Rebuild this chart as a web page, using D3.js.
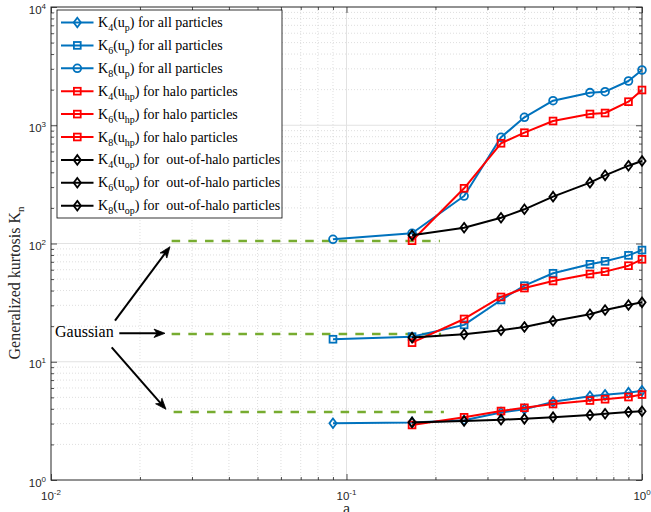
<!DOCTYPE html>
<html><head><meta charset="utf-8">
<script src="https://cdn.jsdelivr.net/npm/d3@7"></script>
<style>body{margin:0;background:#fff;overflow:hidden}</style>
</head><body><svg id="c" width="651" height="512"></svg>
<script>
// ---------- data ----------
const aAll = [0.09, 1/6, 0.25, 1/3, 0.4, 0.5, 2/3, 0.75, 0.9, 1];
const aSub = [1/6, 0.25, 1/3, 0.4, 0.5, 2/3, 0.75, 0.9, 1];

const K4p  = [3.02, 3.07, 3.2, 3.72, 3.97, 4.58, 5.1, 5.25, 5.48, 5.68];
const K6p  = [15.5, 16.3, 20.5, 33.3, 44, 56, 66.7, 70.7, 79.4, 88];
const K8p  = [108.5, 122, 252, 791, 1167, 1613, 1886, 1922, 2367, 2933];
const K4hp = [2.92, 3.39, 3.83, 4.08, 4.39, 4.7, 4.82, 5.03, 5.28];
const K6hp = [14.5, 23, 35.3, 42, 48.2, 55.2, 57.8, 64.9, 73.5];
const K8hp = [105.6, 293, 704, 865, 1086, 1245, 1269, 1582, 1986];
const K4op = [3.07, 3.15, 3.24, 3.29, 3.4, 3.55, 3.63, 3.76, 3.81];
const K6op = [16, 17.1, 18.45, 19.7, 22.1, 25.2, 27.4, 30.2, 31.8];
const K8op = [117.3, 136, 165, 194.6, 249, 327, 377, 455, 499];

const gaussLevels = [105, 17.2, 3.76];
const gaussStart = [0.0256, 0.0256, 0.026];
const gaussEnd   = [0.207, 0.209, 0.2136];

const xTickVals = [0.01, 0.1, 1];
const xTickExp  = ["-2", "-1", "0"];
const yTickVals = [1, 10, 100, 1000, 10000];
const yTickExp  = ["0", "1", "2", "3", "4"];

const legendK   = ["4", "6", "8", "4", "6", "8", "4", "6", "8"];
const legendU   = ["p", "p", "p", "hp", "hp", "hp", "op", "op", "op"];
const legendEnd = [") for all particles", ") for all particles", ") for all particles",
                   ") for halo particles", ") for halo particles", ") for halo particles",
                   ") for  out-of-halo particles", ") for  out-of-halo particles", ") for  out-of-halo particles"];

const xLabel = "a";
const yLabel = "Generalized kurtosis K";
const yLabelSub = "n";
const annotation = "Gaussian";

// ---------- setup ----------
const blue = "#0072BD", red = "#FF0000", black = "#000000", green = "#77AC30";
const series = [
  {x: aAll, y: K4p,  c: blue,  m: "d"},
  {x: aAll, y: K6p,  c: blue,  m: "s"},
  {x: aAll, y: K8p,  c: blue,  m: "o"},
  {x: aSub, y: K4hp, c: red,   m: "s"},
  {x: aSub, y: K6hp, c: red,   m: "s"},
  {x: aSub, y: K8hp, c: red,   m: "s"},
  {x: aSub, y: K4op, c: black, m: "d"},
  {x: aSub, y: K6op, c: black, m: "d"},
  {x: aSub, y: K8op, c: black, m: "d"},
];

const L = 51, R = 642, T = 7, B = 480;
const x = d3.scaleLog().domain([0.01, 1]).range([L, R]);
const y = d3.scaleLog().domain([1, 10000]).range([B, T]);

const svg = d3.select("#c");
svg.append("rect").attr("width", 651).attr("height", 512).attr("fill", "#fff");

// minor values
const minorX = [], minorY = [];
for (let e = -2; e < 0; e++) for (let k = 2; k <= 9; k++) minorX.push(k * Math.pow(10, e));
for (let e = 0; e < 4; e++) for (let k = 2; k <= 9; k++) minorY.push(k * Math.pow(10, e));

const grid = svg.append("g");
grid.selectAll(".mx").data(minorX).join("line")
  .attr("x1", d => x(d)).attr("x2", d => x(d)).attr("y1", T).attr("y2", B)
  .attr("stroke", "#c8c8c8").attr("stroke-width", 0.6).attr("stroke-dasharray", "1,2");
grid.selectAll(".my").data(minorY).join("line")
  .attr("y1", d => y(d)).attr("y2", d => y(d)).attr("x1", L).attr("x2", R)
  .attr("stroke", "#c8c8c8").attr("stroke-width", 0.6).attr("stroke-dasharray", "1,2");
grid.selectAll(".Mx").data(xTickVals.slice(1, -1)).join("line")
  .attr("x1", d => x(d)).attr("x2", d => x(d)).attr("y1", T).attr("y2", B)
  .attr("stroke", "#e2e2e2").attr("stroke-width", 1);
grid.selectAll(".My").data(yTickVals.slice(1, -1)).join("line")
  .attr("y1", d => y(d)).attr("y2", d => y(d)).attr("x1", L).attr("x2", R)
  .attr("stroke", "#e2e2e2").attr("stroke-width", 1);

// axes via d3 axis (ticks inward)
const axCol = "#262626";
function styleAxis(g) {
  g.select(".domain").remove();
  g.selectAll("line").attr("stroke", axCol).attr("stroke-width", 0.8);
  g.selectAll("text").remove();
}
const allX = xTickVals.concat(minorX), allY = yTickVals.concat(minorY);
const isMajor = v => Math.abs(Math.log10(v) - Math.round(Math.log10(v))) < 1e-9;

svg.append("g").attr("transform", `translate(0,${B})`)
  .call(d3.axisBottom(x).tickValues(allX).tickSizeInner(0).tickSizeOuter(0))
  .call(g => { styleAxis(g); g.selectAll(".tick line").attr("y2", d => isMajor(d) ? -6 : -3); });
svg.append("g").attr("transform", `translate(0,${T})`)
  .call(d3.axisTop(x).tickValues(allX).tickSizeInner(0).tickSizeOuter(0))
  .call(g => { styleAxis(g); g.selectAll(".tick line").attr("y2", d => isMajor(d) ? 6 : 3); });
svg.append("g").attr("transform", `translate(${L},0)`)
  .call(d3.axisLeft(y).tickValues(allY).tickSizeInner(0).tickSizeOuter(0))
  .call(g => { styleAxis(g); g.selectAll(".tick line").attr("x2", d => isMajor(d) ? 6 : 3); });
svg.append("g").attr("transform", `translate(${R},0)`)
  .call(d3.axisRight(y).tickValues(allY).tickSizeInner(0).tickSizeOuter(0))
  .call(g => { styleAxis(g); g.selectAll(".tick line").attr("x2", d => isMajor(d) ? -6 : -3); });

svg.append("rect").attr("x", L).attr("y", T).attr("width", R - L).attr("height", B - T)
  .attr("fill", "none").attr("stroke", axCol).attr("stroke-width", 1);

// tick labels
const tickFont = "'Liberation Sans', Arial, sans-serif";
xTickVals.forEach((v, i) => {
  const t = svg.append("text").attr("x", x(v)).attr("y", B + 20)
    .attr("text-anchor", "middle").attr("font-family", tickFont).attr("font-size", 11.5).attr("fill", axCol);
  t.append("tspan").text("10");
  t.append("tspan").attr("dy", -5).attr("font-size", 8).text(xTickExp[i]);
});
yTickVals.forEach((v, i) => {
  const t = svg.append("text").attr("x", L - 5).attr("y", y(v) + 6.5)
    .attr("text-anchor", "end").attr("font-family", tickFont).attr("font-size", 11.5).attr("fill", axCol);
  t.append("tspan").text("10");
  t.append("tspan").attr("dy", -5).attr("font-size", 8).text(yTickExp[i]);
});

const serif = "'Liberation Serif', 'Times New Roman', serif";
svg.append("text").attr("x", x(0.1)).attr("y", 514).attr("text-anchor", "middle")
  .attr("font-family", serif).attr("font-size", 16).attr("fill", axCol).text(xLabel);
const yl = svg.append("text").attr("transform", "translate(20,283) rotate(-90)")
  .attr("text-anchor", "middle").attr("font-family", serif).attr("font-size", 16).attr("fill", axCol);
yl.append("tspan").text(yLabel);
yl.append("tspan").attr("dy", 4).attr("font-size", 11).text(yLabelSub);

// Gaussian dashed lines
svg.append("g").selectAll("line").data(gaussLevels).join("line")
  .attr("x1", (d, i) => x(gaussStart[i])).attr("x2", (d, i) => x(gaussEnd[i]))
  .attr("y1", d => y(d)).attr("y2", d => y(d))
  .attr("stroke", green).attr("stroke-width", 2.5).attr("stroke-dasharray", "8.5,8.2");

// markers
function marker(g, m, cx, cy, c) {
  if (m === "o") g.append("circle").attr("cx", cx).attr("cy", cy).attr("r", 3.9)
    .attr("fill", "none").attr("stroke", c).attr("stroke-width", 1.8);
  else if (m === "s") g.append("rect").attr("x", cx - 3.4).attr("y", cy - 3.4).attr("width", 6.8).attr("height", 6.8)
    .attr("fill", "none").attr("stroke", c).attr("stroke-width", 1.8);
  else g.append("path").attr("d", `M${cx},${cy - 4.8}L${cx + 3.6},${cy}L${cx},${cy + 4.8}L${cx - 3.6},${cy}Z`)
    .attr("fill", "none").attr("stroke", c).attr("stroke-width", 1.8);
}

const line = d3.line().x(d => x(d[0])).y(d => y(d[1]));
const sg = svg.append("g");
series.forEach(s => {
  const pts = s.x.map((v, i) => [v, s.y[i]]);
  const g = sg.append("g");
  g.append("path").attr("d", line(pts)).attr("fill", "none").attr("stroke", s.c)
    .attr("stroke-width", 2).attr("stroke-linejoin", "round");
  pts.forEach(p => marker(g, s.m, x(p[0]), y(p[1]), s.c));
});

// annotation
svg.append("text").attr("x", 55).attr("y", 337).attr("font-family", serif).attr("font-size", 16)
  .attr("fill", "#000").text(annotation);
function arrow(x1, y1, x2, y2) {
  const ang = Math.atan2(y2 - y1, x2 - x1), len = 11, w = 4.2, back = 3;
  const ux = Math.cos(ang), uy = Math.sin(ang), px = -uy, py = ux;
  const bx = x2 - ux * len, by = y2 - uy * len;
  svg.append("line").attr("x1", x1).attr("y1", y1).attr("x2", x2 - ux * 4).attr("y2", y2 - uy * 4)
    .attr("stroke", "#000").attr("stroke-width", 2);
  svg.append("path").attr("d",
    `M${x2},${y2}L${bx + px * w},${by + py * w}L${x2 - ux * (len - back)},${y2 - uy * (len - back)}L${bx - px * w},${by - py * w}Z`)
    .attr("fill", "#000").attr("stroke", "#000").attr("stroke-width", 0.8).attr("stroke-linejoin", "miter");
}
arrow(115, 320.7, 170, 246.7);
arrow(119.3, 333.3, 165, 333.3);
arrow(111.7, 347.3, 166, 409.3);

// legend
const lg = svg.append("g");
const LX0 = 57, LY0 = 10, LX1 = 282, LY1 = 218;
lg.append("rect").attr("x", LX0).attr("y", LY0).attr("width", LX1 - LX0).attr("height", LY1 - LY0)
  .attr("fill", "#fff").attr("stroke", "#000").attr("stroke-width", 0.8);
series.forEach((s, i) => {
  const cy = 22.5 + i * 22.9;
  const g = lg.append("g");
  g.append("line").attr("x1", 61).attr("x2", 93.5).attr("y1", cy).attr("y2", cy)
    .attr("stroke", s.c).attr("stroke-width", 2);
  marker(g, s.m, 77.3, cy, s.c);
  const t = g.append("text").attr("x", 98).attr("y", cy + 4.5).attr("font-family", serif)
    .attr("font-size", 14).attr("fill", "#000").attr("xml:space", "preserve").style("white-space", "pre");
  t.append("tspan").text("K");
  t.append("tspan").attr("dy", 4).attr("font-size", 10).text(legendK[i]);
  t.append("tspan").attr("dy", -4).text("(u");
  t.append("tspan").attr("dy", 4).attr("font-size", 10).text(legendU[i]);
  t.append("tspan").attr("dy", -4).text(legendEnd[i]);
});
</script></body></html>
